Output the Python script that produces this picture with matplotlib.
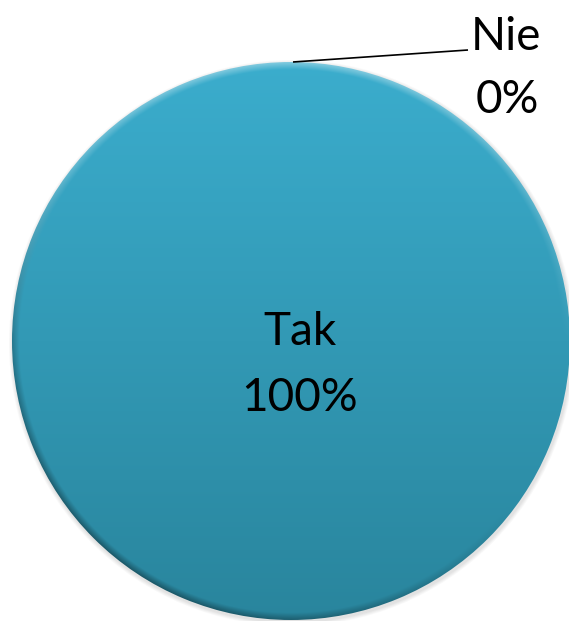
import numpy as np
import matplotlib
matplotlib.use("Agg")
import matplotlib.pyplot as plt

categories = ["Tak", "Nie"]
values = [100, 0]
percent_labels = ["100%", "0%"]

W, H = 569, 621
fig = plt.figure(figsize=(W / 100, H / 100), dpi=100)
ax = fig.add_axes([0, 0, 1, 1])

cx, cy, R = 291, 280, 279

# soft shadow under the disc
for i, a in enumerate([0.05, 0.05, 0.06, 0.07]):
    ax.add_patch(plt.Circle((cx + 1, cy - 2), R + 4 - i, color="#808080",
                            alpha=a, lw=0, zorder=0))

wedges, _ = ax.pie(values, startangle=90, counterclock=False, center=(cx, cy),
                   radius=R, colors=["none", "none"],
                   wedgeprops=dict(linewidth=0))
for w in wedges:
    w.set_zorder(1)

# vertical gradient with a lightly shaded rim
n = 600
xs = np.linspace(cx - R, cx + R, n)
ys = np.linspace(cy + R, cy - R, n)
X, Y = np.meshgrid(xs, ys)
t = (cy + R - Y) / (2 * R)
top = np.array([59, 173, 205]) / 255
bot = np.array([41, 133, 157]) / 255
img = top[None, None, :] * (1 - t[..., None]) + bot[None, None, :] * t[..., None]
r = np.hypot(X - cx, Y - cy) / R
rim = np.clip((r - 0.975) / 0.025, 0, 1)
ang = np.arctan2(Y - cy, X - cx)
light = np.clip(np.sin(ang), 0, 1)
dark = np.clip(-np.cos(ang) * 0.6 - np.sin(ang) * 0.8, 0, 1)
img = img * (1 - 0.35 * rim * dark)[..., None]
img = img + (1 - img) * (0.35 * rim * light)[..., None]
img = np.clip(img, 0, 1)
im = ax.imshow(img, extent=(cx - R, cx + R, cy - R, cy + R), origin="upper",
               zorder=2, interpolation="bilinear")
im.set_clip_path(wedges[0])

font = dict(family=["Lato", "DejaVu Sans"], fontsize=33, color="black")

# main slice label
ax.text(cx + 9, H - 332, categories[0], ha="center", va="center", zorder=5, **font)
ax.text(cx + 9, H - 398, percent_labels[0], ha="center", va="center", zorder=5, **font)

# zero slice label with leader line
edge = (cx + R * np.cos(np.pi / 2), cy + R * np.sin(np.pi / 2))
ax.plot([edge[0] + 2, 468], [edge[1], H - 50], color="black", lw=1.2, zorder=5,
        solid_capstyle="butt")
ax.text(471, H - 37, categories[1], ha="left", va="center", zorder=5, **font)
ax.text(476, H - 100, percent_labels[1], ha="left", va="center", zorder=5, **font)

ax.set_xlim(0, W)
ax.set_ylim(0, H)
ax.set_aspect("equal")
ax.axis("off")

fig.savefig("out.png", dpi=100)
